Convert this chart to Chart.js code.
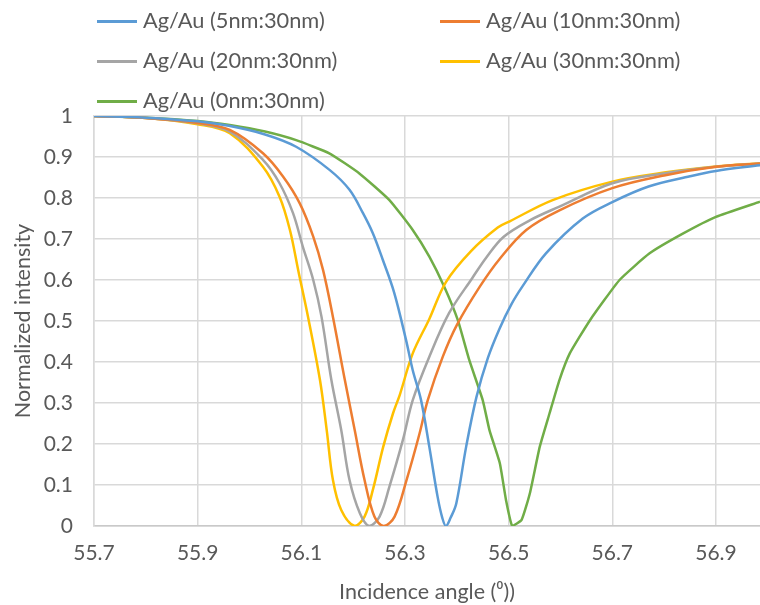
<!DOCTYPE html>
<html>
<head>
<meta charset="utf-8">
<script src="https://cdn.jsdelivr.net/npm/chart.js@4"></script>
<style>
  body { margin: 0; background: #fff; }
  #wrap { position: relative; width: 760px; height: 605px; }
  #chart { position: absolute; left: 0; top: 0; }
  .leg { position: absolute; font: 21.8px Lato, sans-serif; color: #595959; white-space: nowrap; line-height: 24px; }
  .leg i { display: inline-block; width: 40px; height: 3px; vertical-align: middle; margin-right: 6px; position: relative; top: -1px; }
</style>
</head>
<body>
<div id="wrap">
  <canvas id="chart" width="760" height="605"></canvas>
  <div id="legend"></div>
</div>
<script>
const xTicks = [55.7, 55.9, 56.1, 56.3, 56.5, 56.7, 56.9];
const yTicks = [0, 0.1, 0.2, 0.3, 0.4, 0.5, 0.6, 0.7, 0.8, 0.9, 1];

const labels = [
    "Ag/Au (5nm:30nm)",
    "Ag/Au (10nm:30nm)",
    "Ag/Au (20nm:30nm)",
    "Ag/Au (30nm:30nm)",
    "Ag/Au (0nm:30nm)"
];
const colors = ["#5b9bd5", "#ed7d31", "#a5a5a5", "#ffc000", "#70ad47"];

// 5nm
const x5 = [55.70, 55.80, 55.90, 55.96, 56.03, 56.09, 56.155, 56.193, 56.219, 56.238, 56.257, 56.279, 56.302, 56.315, 56.331, 56.347, 56.363, 56.372, 56.379, 56.388, 56.399, 56.418, 56.438, 56.460, 56.482, 56.505, 56.527, 56.572, 56.643, 56.70, 56.77, 56.85, 56.90, 56.985];
const y5 = [1.000, 0.996, 0.987, 0.976, 0.955, 0.925, 0.868, 0.820, 0.763, 0.714, 0.650, 0.570, 0.454, 0.380, 0.307, 0.193, 0.071, 0.020, 0.000, 0.020, 0.055, 0.193, 0.315, 0.410, 0.480, 0.540, 0.585, 0.665, 0.750, 0.790, 0.828, 0.853, 0.866, 0.880];

// 10nm
const x10 = [55.70, 55.80, 55.90, 55.962, 56.026, 56.065, 56.097, 56.123, 56.142, 56.161, 56.184, 56.203, 56.222, 56.241, 56.259, 56.280, 56.303, 56.328, 56.344, 56.373, 56.400, 56.445, 56.483, 56.534, 56.598, 56.70, 56.80, 56.90, 56.985];
const y10 = [1.000, 0.995, 0.983, 0.966, 0.909, 0.852, 0.787, 0.706, 0.624, 0.510, 0.356, 0.234, 0.112, 0.023, 0.000, 0.023, 0.112, 0.225, 0.307, 0.413, 0.490, 0.585, 0.652, 0.722, 0.770, 0.824, 0.855, 0.876, 0.884];

// 20nm
const x20 = [55.70, 55.80, 55.90, 55.962, 56.026, 56.058, 56.084, 56.103, 56.123, 56.139, 56.158, 56.177, 56.193, 56.213, 56.231, 56.251, 56.270, 56.296, 56.315, 56.347, 56.385, 56.430, 56.457, 56.490, 56.540, 56.598, 56.70, 56.80, 56.90, 56.985];
const y20 = [1.000, 0.995, 0.982, 0.962, 0.893, 0.836, 0.763, 0.681, 0.600, 0.510, 0.356, 0.234, 0.112, 0.031, 0.000, 0.023, 0.096, 0.210, 0.307, 0.413, 0.519, 0.605, 0.655, 0.705, 0.745, 0.779, 0.836, 0.860, 0.876, 0.884];

// 30nm
const x30 = [55.70, 55.80, 55.90, 55.962, 56.026, 56.058, 56.078, 56.094, 56.113, 56.136, 56.149, 56.161, 56.177, 56.203, 56.222, 56.238, 56.258, 56.277, 56.290, 56.315, 56.347, 56.379, 56.427, 56.479, 56.502, 56.585, 56.70, 56.80, 56.90, 56.985];
const y30 = [1.000, 0.995, 0.980, 0.958, 0.876, 0.803, 0.722, 0.624, 0.510, 0.356, 0.234, 0.112, 0.039, 0.000, 0.023, 0.088, 0.193, 0.275, 0.320, 0.421, 0.505, 0.595, 0.670, 0.728, 0.743, 0.795, 0.840, 0.862, 0.877, 0.885];

// 0nm
const x0 = [55.70, 55.80, 55.90, 55.962, 56.03, 56.09, 56.154, 56.212, 56.27, 56.315, 56.347, 56.376, 56.402, 56.424, 56.450, 56.463, 56.483, 56.495, 56.507, 56.525, 56.541, 56.56, 56.579, 56.598, 56.618, 56.657, 56.714, 56.772, 56.836, 56.90, 56.985];
const y0 = [1.000, 0.996, 0.988, 0.978, 0.962, 0.941, 0.909, 0.860, 0.795, 0.722, 0.657, 0.583, 0.502, 0.405, 0.307, 0.234, 0.153, 0.063, 0.000, 0.015, 0.080, 0.193, 0.275, 0.356, 0.421, 0.502, 0.600, 0.665, 0.713, 0.754, 0.791];

const seriesX = [x5, x10, x20, x30, x0];
const seriesY = [y5, y10, y20, y30, y0];

const textColor = "#595959";
const tickFont = { family: "Lato, sans-serif", size: 21 };
const titleFont = { family: "Lato, sans-serif", size: 21.5 };

// legend, two columns
const legendPos = [[97, 8], [440, 8], [97, 48], [440, 48], [97, 88]];
const legend = document.getElementById("legend");
labels.forEach((name, i) => {
    const el = document.createElement("div");
    el.className = "leg";
    el.style.left = legendPos[i][0] + "px";
    el.style.top = legendPos[i][1] + "px";
    el.innerHTML = `<i style="background:${colors[i]}"></i>${name}`;
    legend.appendChild(el);
});

const datasets = labels.map((name, i) => ({
    label: name,
    data: seriesX[i].map((x, k) => ({ x, y: seriesY[i][k] })),
    borderColor: colors[i],
    backgroundColor: colors[i],
    borderWidth: 2.5,
    showLine: true,
    pointRadius: 0,
    tension: i === 4 ? 0.15 : 0.35
}));

new Chart(document.getElementById("chart").getContext("2d"), {
    type: "scatter",
    data: { datasets },
    options: {
        responsive: false,
        animation: false,
        layout: { padding: { top: 116, left: 0, right: 0, bottom: 0 } },
        plugins: { legend: { display: false }, tooltip: { enabled: false } },
        scales: {
            x: {
                type: "linear",
                min: 55.7,
                max: 56.985,
                afterBuildTicks: (s) => { s.ticks = xTicks.map((v) => ({ value: v })); },
                afterFit: (s) => { s.height = 79; },
                grid: { color: "#d9d9d9", lineWidth: 1.5, drawTicks: false },
                border: { color: "#c9c9c9", width: 1.5 },
                ticks: { padding: 15, color: textColor, font: tickFont, maxRotation: 0, callback: (v) => v.toFixed(1) },
                title: { display: true, text: "Incidence angle (⁰))", color: textColor, font: titleFont, padding: { top: 0, bottom: 0 } }
            },
            y: {
                min: 0,
                max: 1,
                afterBuildTicks: (s) => { s.ticks = yTicks.map((v) => ({ value: v })); },
                afterFit: (s) => { s.width = 94; },
                grid: { color: "#d9d9d9", lineWidth: 1.5, drawTicks: false },
                border: { color: "#d9d9d9", width: 1.5 },
                ticks: { padding: 21, color: textColor, font: tickFont, callback: (v) => String(+v.toFixed(1)) },
                title: { display: true, text: "Normalized intensity", color: textColor, font: titleFont, padding: { top: 10, bottom: 0 } }
            }
        }
    }
});
</script>
</body>
</html>
